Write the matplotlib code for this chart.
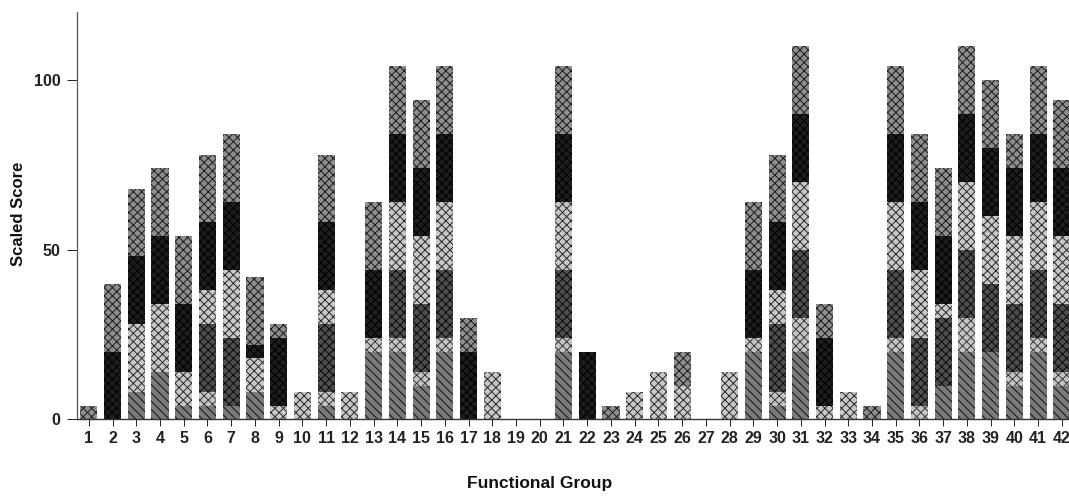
import matplotlib
matplotlib.use('Agg')
import matplotlib.pyplot as plt
import numpy as np

# functional groups 1..42
groups = list(range(1, 43))

# stacked segments, bottom to top
diag_part = [0, 0, 8, 14, 4, 4, 4, 8, 0, 0, 4, 0, 20, 20, 10, 20, 0, 0, 0, 0, 20,
             0, 0, 0, 0, 0, 0, 0, 20, 4, 20, 0, 0, 0, 20, 0, 10, 20, 20, 10, 20, 10]
thin_part = [0, 0, 0, 0, 0, 4, 0, 0, 0, 0, 4, 0, 4, 4, 4, 4, 0, 0, 0, 0, 4,
             0, 0, 0, 0, 0, 0, 0, 4, 4, 10, 0, 0, 0, 4, 4, 0, 10, 0, 4, 4, 4]
dark_part = [0, 0, 0, 0, 0, 20, 20, 0, 0, 0, 20, 0, 0, 20, 20, 20, 0, 0, 0, 0, 20,
             0, 0, 0, 0, 0, 0, 0, 0, 20, 20, 0, 0, 0, 20, 20, 20, 20, 20, 20, 20, 20]
light_part = [0, 0, 20, 20, 10, 10, 20, 10, 4, 8, 10, 8, 0, 20, 20, 20, 0, 14, 0, 0, 20,
              0, 0, 8, 14, 10, 0, 14, 0, 10, 20, 4, 8, 0, 20, 20, 4, 20, 20, 20, 20, 20]
black_part = [0, 20, 20, 20, 20, 20, 20, 4, 20, 0, 20, 0, 20, 20, 20, 20, 20, 0, 0, 0, 20,
              20, 0, 0, 0, 0, 0, 0, 20, 20, 20, 20, 0, 0, 20, 20, 20, 20, 20, 20, 20, 20]
top_part = [4, 20, 20, 20, 20, 20, 20, 20, 4, 0, 20, 0, 20, 20, 20, 20, 10, 0, 0, 0, 20,
            0, 4, 0, 0, 10, 0, 0, 20, 20, 20, 10, 0, 4, 20, 20, 20, 20, 20, 10, 20, 20]

y_ticks = [0, 50, 100]

plt.rcParams['hatch.linewidth'] = 0.7
label_font = ['Liberation Sans', 'DejaVu Sans']

fig = plt.figure(figsize=(10.69, 4.97), dpi=100)
fig.patch.set_facecolor('white')
ax = fig.add_axes([0.072, 0.156, 0.928, 0.82])

# (facecolor, hatch colour, hatch)
styles = [
    ('#7a7a7a', '#111111', '\\\\\\\\'),
    ('#c4c4c4', '#3a3a3a', 'xxxx'),
    ('#4e4e4e', '#0a0a0a', 'xxxx'),
    ('#c8c8c8', '#2a2a2a', 'xxxx'),
    ('#1e1e1e', '#000000', 'xxxx'),
    ('#8e8e8e', '#1a1a1a', 'xxxx'),
]
parts = [diag_part, thin_part, dark_part, light_part, black_part, top_part]

x = np.array(groups)
bottom = np.zeros(len(groups))
for vals, (fc, hc, hatch) in zip(parts, styles):
    vals = np.array(vals, dtype=float)
    ax.bar(x, vals, width=0.72, bottom=bottom, color=fc, edgecolor=hc,
           hatch=hatch, linewidth=0)
    bottom += vals

ax.set_xlim(0.5, 42.3)
ax.set_ylim(0, 120)
ax.set_xticks(groups)
ax.set_xticklabels([str(g) for g in groups], family=label_font, fontweight='bold', fontsize=11.5)
ax.set_yticks(y_ticks)
ax.set_yticklabels([str(t) for t in y_ticks], family=label_font, fontweight='bold', fontsize=11.5)
ax.tick_params(axis='x', direction='out', length=5, width=0.7, pad=3, colors='#222222')
ax.tick_params(axis='y', direction='out', length=7, width=0.7, pad=5, colors='#222222')

ax.spines['top'].set_visible(False)
ax.spines['right'].set_visible(False)
ax.spines['left'].set_color('#555555')
ax.spines['left'].set_linewidth(0.9)
ax.spines['bottom'].set_color('#333333')
ax.spines['bottom'].set_linewidth(1.0)

fig.text(0.017, 0.57, 'Scaled Score', rotation=90, ha='center', va='center',
         family=label_font, fontsize=12, fontweight='bold', color='#111111')
fig.text(0.505, 0.028, 'Functional Group', ha='center', va='center',
         family=label_font, fontsize=12.5, fontweight='bold', color='#111111')

fig.savefig('out.png', dpi=100, facecolor='white')
